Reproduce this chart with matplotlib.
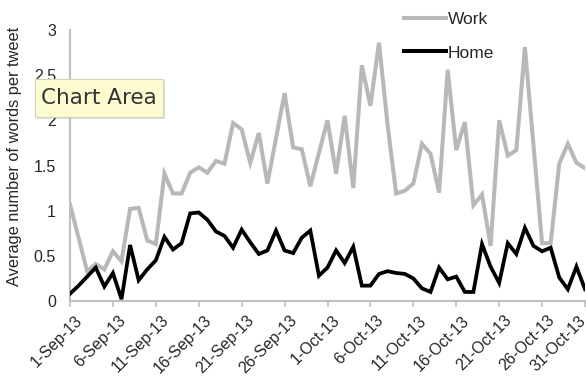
import matplotlib
matplotlib.use("Agg")
import matplotlib.pyplot as plt
from matplotlib.lines import Line2D
from matplotlib.patches import Rectangle
from matplotlib.transforms import ScaledTranslation
import numpy as np

# daily averages, 1 Sep 2013 .. 31 Oct 2013
work = [1.07, 0.70, 0.33, 0.41, 0.35, 0.55, 0.44, 1.02, 1.03, 0.67,
        0.63, 1.41, 1.19, 1.19, 1.42, 1.48, 1.42, 1.55, 1.52, 1.97,
        1.90, 1.53, 1.86, 1.30, 1.80, 2.30, 1.70, 1.68, 1.27, 1.64,
        2.00, 1.41, 2.05, 1.25, 2.61, 2.16, 2.86, 1.95, 1.19, 1.22,
        1.30, 1.74, 1.63, 1.20, 2.56, 1.67, 1.98, 1.06, 1.18, 0.61,
        2.00, 1.61, 1.67, 2.81, 1.72, 0.64, 0.64, 1.52, 1.74, 1.53,
        1.47]
home = [0.08, 0.17, 0.27, 0.37, 0.16, 0.31, 0.02, 0.62, 0.23, 0.35,
        0.45, 0.71, 0.57, 0.64, 0.97, 0.98, 0.90, 0.77, 0.72, 0.59,
        0.79, 0.65, 0.52, 0.56, 0.78, 0.56, 0.53, 0.70, 0.78, 0.28,
        0.37, 0.56, 0.42, 0.60, 0.17, 0.17, 0.30, 0.33, 0.31, 0.30,
        0.25, 0.14, 0.10, 0.37, 0.24, 0.27, 0.10, 0.10, 0.63, 0.38,
        0.20, 0.64, 0.52, 0.81, 0.61, 0.55, 0.59, 0.26, 0.13, 0.38,
        0.13]
tick_labels = ["1-Sep-13", "6-Sep-13", "11-Sep-13", "16-Sep-13", "21-Sep-13",
               "26-Sep-13", "1-Oct-13", "6-Oct-13", "11-Oct-13", "16-Oct-13",
               "21-Oct-13", "26-Oct-13", "31-Oct-13"]

W, H = 586, 379
days = np.arange(len(work))
axis_grey = "#c0c0c0"
text_col = "#262626"

plt.rcParams["font.family"] = ["Liberation Sans", "DejaVu Sans"]
fig = plt.figure(figsize=(W / 100, H / 100), dpi=100)
ax = fig.add_axes([70 / W, 78 / H, (585 - 70) / W, (301 - 30) / H])

ax.plot(days, work, color="#b8b8b8", lw=2.9, solid_joinstyle="miter", zorder=2)
ax.plot(days, home, color="black", lw=2.7, solid_joinstyle="miter", zorder=3)

ax.set_xlim(0, 60)
ax.set_ylim(0, 3)
ax.set_yticks([0, 0.5, 1, 1.5, 2, 2.5, 3])
ax.set_yticklabels(["0", "0.5", "1", "1.5", "2", "2.5", "3"])
ax.set_xticks(np.arange(0, 61, 5))
ax.set_xticklabels(tick_labels, rotation=45, ha="right", va="top",
                   rotation_mode="anchor")
ax.tick_params(axis="y", length=0, pad=10, labelsize=11.5, colors=text_col)
ax.tick_params(axis="x", length=4, width=1.2, color=axis_grey, pad=3,
               labelsize=11.5, labelcolor=text_col)
# nudge the slanted date labels right and down a little (last one stays in frame)
labels = ax.get_xticklabels()
for i, lab in enumerate(labels):
    dx = 5 if i < len(labels) - 1 else -7
    shift = ScaledTranslation(dx / 100, -2 / 100, fig.dpi_scale_trans)
    lab.set_transform(lab.get_transform() + shift)
for side in ("top", "right"):
    ax.spines[side].set_visible(False)
for side in ("left", "bottom"):
    ax.spines[side].set_color(axis_grey)
    ax.spines[side].set_linewidth(1.5)

fig.text(15 / W, 1 - 156 / H, "Average number of words per tweet", rotation=90,
         ha="center", va="center", fontsize=11.8, color=text_col)

handles = [Line2D([], [], color="#b8b8b8", lw=2.9),
           Line2D([], [], color="black", lw=2.9)]
fig.legend(handles, ["Work", "Home"], loc="upper left",
           bbox_to_anchor=(404 / W, 1 - 12 / H), frameon=False, fontsize=12.5,
           handlelength=2.4, handletextpad=0.12, labelspacing=1.05,
           borderpad=0, borderaxespad=0, labelcolor=text_col)

# hover tooltip sitting over the chart
fig.patches.append(Rectangle((37 / W, 1 - 119 / H), 128 / W, 38 / H,
                             transform=fig.transFigure, facecolor="#000000",
                             alpha=0.12, edgecolor="none", zorder=4))
fig.patches.append(Rectangle((35 / W, 1 - 117 / H), 128 / W, 38 / H,
                             transform=fig.transFigure, facecolor="#fdfbd0",
                             edgecolor="#d6d4ae", lw=0.8, zorder=5))
fig.text(99 / W, 1 - 98 / H, "Chart Area", ha="center", va="center",
         fontsize=15.5, color="#333333", family="DejaVu Sans", zorder=6)

fig.savefig("out.png", dpi=100)
